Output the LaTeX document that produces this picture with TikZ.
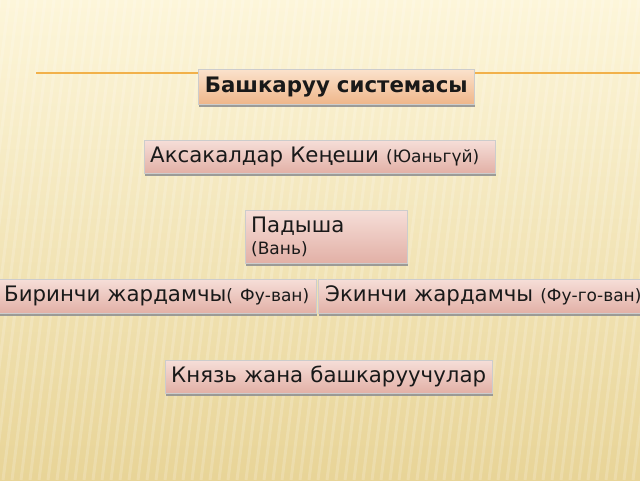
\documentclass[tikz,border=0pt]{standalone}
\usepackage{fontspec}
\setmainfont{DejaVu Sans}
\usepackage{tikz}
\usetikzlibrary{positioning,shadows}

\definecolor{fonTop}{HTML}{FDF6DA}
\definecolor{fonBot}{HTML}{E8D497}
\definecolor{sizik}{HTML}{F2B14A}
\definecolor{pinkTop}{HTML}{F6DED8}
\definecolor{pinkBot}{HTML}{E2B0A6}
\definecolor{peachTop}{HTML}{FBE2CC}
\definecolor{peachBot}{HTML}{EFB68A}

\tikzset{
  blok/.style={draw=gray!40, line width=0.4pt, top color=pinkTop, bottom color=pinkBot,
    drop shadow={shadow xshift=1pt, shadow yshift=-2.5pt, fill=gray!85, opacity=0.9},
    anchor=north west, inner xsep=6pt, inner ysep=2pt, align=left,
    font=\fontsize{21.3}{25}\selectfont, text=black!90}
}
\newcommand{\kichi}{\fontsize{17}{20}\selectfont}

\begin{document}
\begin{tikzpicture}[x=1pt,y=-1pt]
\useasboundingbox (0,0) rectangle (640,480);
\clip (0,0) rectangle (640,480);
% background
\shade[top color=fonTop, bottom color=fonBot] (0,0) rectangle (640,480);
\foreach \i in {0,9,...,720}
  \draw[white, line width=3pt, opacity=0.18] (\i-60,480) -- (\i,0);

\coordinate (sizikA) at (36,73);
\coordinate (sizikB) at (640,73);
\draw[sizik, line width=1.2pt] (sizikA) -- (sizikB);

\node[blok, top color=peachTop, bottom color=peachBot, align=center, text width=264pt,
  minimum height=35pt, font=\fontsize{21.3}{25}\selectfont\bfseries] (sistema) at (198,69) {Башкаруу системасы};
\node[blok, text width=339pt, minimum height=33pt] (kenesh) at (144,140)
  {Аксакалдар Кеңеши {\kichi(Юаньгүй)}};
\node[blok, text width=150pt, minimum height=53pt] (padysha) at (245,210)
  {Падыша\\[-3pt] {\kichi(Вань)}};
\node[blok, text width=306pt, minimum height=34pt] (birinchi) at (-2,279)
  {Биринчи жардамчы{\kichi( Фу-ван)}};
\node[blok, inner xsep=7pt, text width=370pt, minimum height=34pt] (ekinchi) at (318,279)
  {Экинчи жардамчы {\kichi(Фу-го-ван)}};
\node[blok, text width=315pt, minimum height=33pt] (knyaz) at (165,360)
  {Князь жана башкаруучулар};
\end{tikzpicture}
\end{document}
